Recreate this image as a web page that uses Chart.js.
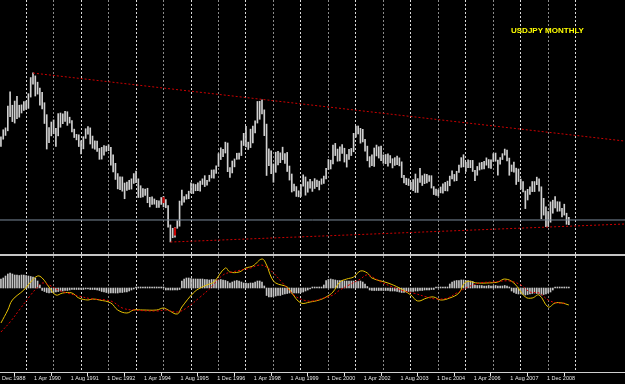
<!DOCTYPE html>
<html lang="en">
<head>
  <meta charset="UTF-8">
  <title>USDJPY Monthly</title>
  <script src="https://cdn.jsdelivr.net/npm/chart.js"></script>
  <style>
    html, body { margin: 0; padding: 0; background: #000; }
    body { width: 625px; height: 384px; position: relative; overflow: hidden; }
    #precos { position: absolute; left: 0; top: 0; width: 625px; height: 254px; }
    #sep { position: absolute; left: 0; top: 254px; width: 625px; height: 2px; background: #c4c4c4; }
    #osc { position: absolute; left: 0; top: 256px; width: 625px; height: 128px; }
    #titulo { position: absolute; left: 511px; top: 27px; font: bold 8px "Liberation Sans", Arial, sans-serif;
              line-height: 8px; color: #ffff00; white-space: nowrap; }
  </style>
</head>
<body>
  <div id="precos"><canvas id="cPreco"></canvas></div>
  <div id="sep"></div>
  <div id="osc"><canvas id="cOsc"></canvas></div>
  <div id="titulo">USDJPY MONTHLY</div>

<script>
// month index: 0 = Dec 1988, 1 = Jan 1989 ... 250 = Oct 2009
const firstMonth = 1

const highs = [
  130.4, 129.9, 133.3, 134.2, 144.6, 151.4, 145.0, 147.0, 149.3, 145.0, 145.2, 146.8,
  147.0, 150.5, 158.2, 160.4, 159.0, 156.0, 153.2, 151.1, 146.2, 140.5, 134.3, 137.0,
  138.0, 134.0, 141.0, 141.3, 140.9, 142.1, 141.9, 139.3, 137.7, 133.6, 131.1, 130.9,
  128.0, 130.0, 133.8, 134.8, 134.2, 130.3, 128.0, 127.9, 124.4, 124.9, 125.8, 125.5,
  126.1, 124.9, 121.3, 117.3, 112.4, 110.9, 110.8, 107.9, 108.4, 109.2, 109.9, 112.4,
  113.6, 109.9, 106.6, 105.2, 105.0, 105.4, 101.1, 101.3, 100.3, 99.6, 99.4, 101.0,
  101.5, 100.0, 97.1, 87.9, 86.3, 86.6, 89.9, 99.3, 104.5, 101.4, 102.4, 104.0,
  108.0, 107.5, 107.2, 108.0, 108.8, 109.9, 111.4, 109.2, 111.6, 114.1, 114.2, 116.1,
  121.9, 124.7, 124.0, 127.4, 127.0, 115.3, 118.4, 119.4, 122.1, 122.2, 128.0, 131.6,
  134.9, 127.4, 133.6, 135.0, 137.6, 146.8, 146.9, 147.6, 142.8, 136.0, 124.2, 123.3,
  117.0, 122.6, 123.0, 122.3, 125.0, 122.0, 122.5, 116.0, 112.2, 107.4, 106.2, 104.2,
  107.1, 111.8, 110.8, 108.5, 109.7, 108.6, 110.0, 109.3, 108.8, 109.9, 111.2, 114.9,
  119.1, 118.8, 126.0, 126.8, 124.1, 125.2, 126.2, 124.5, 121.5, 124.0, 124.4, 131.6,
  135.0, 135.1, 134.0, 133.5, 128.7, 125.5, 120.5, 121.3, 124.6, 126.0, 125.2, 125.5,
  121.3, 121.5, 121.8, 121.0, 119.5, 120.0, 120.8, 119.9, 118.0, 111.6, 110.2, 109.9,
  108.2, 109.5, 112.2, 110.0, 114.9, 111.4, 112.2, 112.0, 111.4, 111.4, 106.2, 105.0,
  104.6, 106.0, 107.5, 108.2, 108.8, 111.2, 113.7, 112.0, 113.5, 116.4, 120.0, 121.4,
  117.8, 119.0, 118.7, 118.7, 114.0, 115.8, 117.5, 117.8, 118.3, 119.9, 119.1, 119.0,
  121.9, 122.2, 118.8, 120.0, 121.9, 124.1, 123.6, 119.8, 116.5, 117.9, 115.0, 114.6,
  109.8, 108.6, 104.1, 104.9, 106.1, 108.6, 108.6, 110.7, 109.9, 106.1, 100.6, 96.6,
  94.3, 98.9, 99.7, 101.4, 99.0, 98.9, 95.8, 97.8, 93.5, 91.5
]
const lows = [
  124.0, 125.4, 128.8, 130.6, 132.8, 139.6, 137.2, 136.5, 138.6, 139.3, 141.3, 142.5,
  143.0, 143.5, 148.9, 155.1, 149.4, 150.3, 145.0, 143.2, 136.3, 124.1, 127.2, 130.4,
  131.4, 125.3, 130.4, 134.5, 136.2, 137.3, 135.4, 136.5, 132.3, 129.6, 128.5, 125.3,
  121.8, 124.2, 129.2, 131.2, 126.5, 124.5, 124.0, 123.0, 119.2, 119.3, 121.2, 123.0,
  123.3, 116.4, 113.2, 109.6, 105.1, 104.7, 104.0, 100.4, 104.4, 104.8, 105.0, 107.7,
  108.1, 101.0, 101.0, 101.3, 102.0, 98.5, 96.5, 97.7, 97.8, 96.2, 96.2, 97.7,
  96.5, 96.1, 86.8, 79.8, 81.8, 82.1, 86.3, 87.3, 97.3, 98.8, 100.2, 100.4,
  103.2, 102.9, 104.2, 104.3, 104.0, 107.2, 106.2, 106.9, 108.7, 110.3, 110.2, 112.5,
  115.8, 119.1, 120.5, 122.2, 113.3, 110.6, 112.7, 115.6, 119.2, 119.3, 121.0, 125.8,
  125.1, 123.9, 124.8, 127.0, 131.8, 136.5, 138.3, 140.9, 130.5, 111.5, 116.2, 112.3,
  108.3, 113.0, 116.5, 117.6, 119.0, 117.3, 113.4, 109.3, 103.6, 104.1, 101.5, 101.3,
  101.5, 106.4, 102.1, 103.5, 105.4, 103.9, 105.3, 106.2, 104.6, 107.3, 107.7, 109.8,
  114.3, 114.6, 117.0, 121.0, 118.3, 118.4, 122.0, 117.9, 115.5, 119.1, 121.0, 122.8,
  129.8, 131.3, 126.9, 127.5, 123.1, 118.5, 115.5, 116.2, 115.8, 120.8, 119.8, 118.6,
  117.3, 117.1, 115.9, 117.5, 115.1, 116.3, 116.6, 116.1, 110.5, 107.9, 107.1, 106.7,
  105.0, 104.2, 103.4, 103.4, 108.2, 106.7, 107.6, 108.0, 108.7, 105.5, 102.4, 102.0,
  101.7, 103.2, 103.1, 104.2, 104.1, 106.6, 109.8, 108.8, 109.0, 113.0, 115.4, 115.6,
  113.4, 115.2, 115.2, 113.4, 109.0, 111.6, 114.1, 114.5, 114.6, 116.4, 115.1, 114.9,
  118.2, 118.3, 111.6, 116.9, 119.1, 121.2, 118.4, 111.6, 113.4, 113.1, 107.2, 108.6,
  105.0, 103.7, 95.7, 99.8, 102.5, 103.8, 103.8, 107.1, 104.0, 90.9, 92.6, 87.1,
  87.1, 89.2, 93.5, 96.0, 94.4, 94.5, 91.7, 92.6, 88.2, 88.0
]

// oscillator histogram, one value per month
const histo = [
  1.6, 1.8, 2.0, 2.4, 2.8, 3.0, 2.8, 2.6, 2.6, 2.5, 2.6, 2.6,
  2.5, 2.4, 2.3, 2.2, 2.0, 1.4, 0.6, -0.5, -0.7, -0.9, -1.0, -0.9,
  -0.9, -0.8, -0.7, -0.6, -0.6, -0.5, -0.5, -0.4, -0.3, -0.3, -0.3, -0.3,
  -0.3, -0.3, -0.2, -0.2, -0.3, -0.3, -0.3, -0.4, -0.5, -0.7, -0.8, -0.9,
  -1.0, -1.0, -1.0, -1.0, -1.0, -0.9, -0.9, -0.8, -0.8, -0.6, -0.4, -0.2,
  0.2, 0.2, 0.2, 0.2, 0.2, 0.2, 0.2, 0.2, 0.2, 0.2, 0.2, 0.2,
  0.2, -0.4, -0.4, -0.4, -0.4, -0.4, -0.4, -0.3, 1.4, 1.8, 2.0, 2.0,
  1.9, 1.8, 1.8, 1.8, 1.8, 1.8, 1.7, 1.7, 1.6, 1.7, 1.7, 1.6,
  1.6, 1.7, 1.6, 1.5, 1.3, 1.0, 1.2, 1.4, 1.5, 1.4, 1.2, 1.0,
  1.0, 0.9, 1.0, 1.0, 1.2, 1.4, 1.4, 1.2, 0.4, -1.5, -1.8, -1.8,
  -1.7, -1.6, -1.5, -1.5, -1.3, -1.2, -1.1, -1.0, -1.0, -1.0, -1.0, -1.0,
  -0.9, -0.8, -0.6, -0.4, -0.2, 0.2, 0.2, 0.2, 0.2, 0.2, 0.6, 1.5,
  1.7, 1.8, 1.7, 1.6, 1.5, 1.5, 1.5, 1.4, 1.4, 1.4, 1.4, 1.4,
  1.4, 1.3, 1.4, 1.2, 0.8, 0.3, -0.4, -0.5, -0.5, -0.5, -0.5, -0.5,
  -0.5, -0.5, -0.5, -0.6, -0.6, -0.6, -0.7, -0.8, -0.9, -0.9, -0.8, -0.7,
  -0.7, -0.7, -0.6, -0.6, -0.5, -0.5, -0.4, -0.4, -0.4, -0.3, -0.3, 0.2,
  0.2, 0.2, 0.2, 0.2, 0.2, 0.8, 1.2, 1.4, 1.5, 1.5, 1.6, 1.6,
  1.5, 1.5, 1.4, 1.3, 0.6, 0.5, 0.5, 0.5, 0.4, 0.4, 0.5, 0.4,
  0.4, 0.5, 0.4, 0.4, 0.4, 0.5, 0.4, 0.2, -0.6, -0.9, -1.1, -1.2,
  -1.2, -1.3, -1.4, -1.3, -1.2, -1.1, -1.0, -1.1, -1.2, -1.4, -1.3, -1.2,
  -1.0, -0.8, -0.4, 0.2, 0.2, 0.2, 0.2, 0.2, 0.2, 0.2
]

// [month, value]
const macdLine = [
  [2,-8.75],[5,-5.5],[7,-3],[12,-0.5],[15,1.5],[18,3],[20,2.5],[23,0.25],[26,-1.75],[29,-1.25],
  [33,-1.25],[36,-2.5],[40,-3],[42,-2.75],[45,-3],[50,-3.75],[53,-5.5],[57,-6.25],[60,-5.5],[64,-5.5],
  [70,-5.5],[73,-5],[75,-5.5],[79,-6.5],[81,-4.75],[86,-1.25],[89,0],[93,1],[95,1.5],[100,5],
  [102,4],[106,4],[109,5],[112,5.5],[116,7.25],[118,5.75],[120,2.75],[122,1.25],[127,0.25],[129,-1.25],
  [133,-3.75],[137,-3.5],[141,-3],[144,-2.25],[147,-1],[150,1.5],[153,2.25],[156,2.75],[159,4.25],[162,3.75],
  [164,2.5],[171,1.25],[176,0],[181,-1.75],[184,-3.25],[188,-2.5],[191,-2.25],[194,-3],[198,-2.5],[202,-1.25],
  [205,1.5],[210,1.25],[214,1.25],[219,1.5],[222,2.25],[226,1.25],[231,-2.25],[234,-2.5],[237,-1.75],[241,-4.75],
  [244,-3.75],[247,-3.75],[250,-4.25]
]
const signalLine = [
  [2,-11],[6,-8.5],[10,-5.5],[15,-1.75],[18,0.25],[20,1.25],[23,0.75],[27,-0.5],[31,-1.25],[36,-2],
  [42,-2.75],[48,-3],[51,-3.5],[55,-5],[60,-5.5],[70,-5.75],[74,-5.5],[79,-6],[83,-5],[89,-2.25],
  [93,-0.25],[99,3.25],[103,4],[111,5],[115,5.75],[118,5.25],[121,3.75],[125,1.25],[130,-1.75],[134,-3],
  [138,-3.25],[143,-2.5],[147,-1.75],[150,-0.5],[154,0.75],[159,2.25],[162,3.25],[168,1.5],[173,0.25],[178,-0.75],
  [182,-1.25],[188,-2.25],[192,-2.75],[197,-2.5],[201,-1.25],[206,0.25],[211,1.25],[217,1.5],[224,1.75],[229,0.75],
  [233,-1],[237,-1.25],[241,-3],[245,-3.75],[249,-3.75]
]

// trend lines and level drawn on the chart: [month, price]
const upperTrend = [[16, 160.35], [274.5, 127.9]]
const lowerTrend = [[76, 79.75], [274.5, 88.35]]
const levelPrice = 90.26
const redMarks = [[73, 98.5, 101.0], [78, 83.0, 86.5]]

// axis: yearly grid (January) and date labels every 16 months
const yearStarts = [13,25,37,49,61,73,85,97,109,121,133,145,157,169,181,193,205,217,229,241,253]
const labelMonths = [0,16,32,48,64,80,96,112,128,144,160,176,192,208,224,240]
const tickLabels = ['1 Dec 1988','1 Apr 1990','1 Aug 1991','1 Dec 1992','1 Apr 1994','1 Aug 1995',
  '1 Dec 1996','1 Apr 1998','1 Aug 1999','1 Dec 2000','1 Apr 2002','1 Aug 2003','1 Dec 2004',
  '1 Apr 2006','1 Aug 2007','1 Dec 2008']

// visible window
const xMin = 1.59, xMax = 274.52
const yMin = 74.04, yMax = 195.2

const pts = arr => arr.map(p => ({ x: p[0], y: p[1] }))
const barras = highs.map((h, k) => ({ x: firstMonth + k, y: [lows[k], h] }))
const hist = histo.map((v, k) => ({ x: firstMonth + k, y: v }))

function gradeAnos() {
  return {
    type: 'linear', min: xMin, max: xMax, offset: false, bounds: 'data',
    afterBuildTicks: s => { s.ticks = yearStarts.map(v => ({ value: v })) },
    afterFit: s => { s.height = 0; s.paddingLeft = 0; s.paddingRight = 0 },
    ticks: { display: false },
    border: { display: false, dash: [2, 2] },
    grid: {
      drawTicks: false, lineWidth: 1, offset: false,
      color: c => c.index % 2 === 0 ? '#dadada' : '#8a8a8a'
    }
  }
}

new Chart(document.getElementById('cPreco'), {
  type: 'bar',
  data: {
    datasets: [
      { type: 'line', data: pts(upperTrend), borderColor: '#cc0000', borderWidth: 1, borderDash: [2, 2], pointRadius: 0 },
      { type: 'line', data: pts(lowerTrend), borderColor: '#cc0000', borderWidth: 1, borderDash: [2, 2], pointRadius: 0 },
      { type: 'line', data: [{ x: xMin, y: levelPrice }, { x: xMax, y: levelPrice }], borderColor: '#7b8a9a', borderWidth: 1, pointRadius: 0 },
      { data: redMarks.map(r => ({ x: r[0], y: [r[1], r[2]] })), backgroundColor: '#c80000', barThickness: 1.5, grouped: false },
      { data: barras, backgroundColor: '#d0d0d0', barThickness: 1, grouped: false }
    ]
  },
  options: {
    responsive: true, maintainAspectRatio: false, animation: false,
    layout: { padding: 0 },
    plugins: { legend: { display: false }, tooltip: { enabled: false } },
    scales: {
      x: gradeAnos(),
      y: { display: false, min: yMin, max: yMax, bounds: 'data' }
    }
  }
});

new Chart(document.getElementById('cOsc'), {
  type: 'bar',
  data: {
    datasets: [
      { type: 'line', yAxisID: 'yl', data: pts(signalLine), borderColor: '#e00000', borderWidth: 1, borderDash: [2, 2], pointRadius: 0, tension: 0.4 },
      { type: 'line', yAxisID: 'yl', data: pts(macdLine), borderColor: '#e6c000', borderWidth: 1, pointRadius: 0, tension: 0.4 },
      { yAxisID: 'yh', data: hist, backgroundColor: '#c4c4c4', barThickness: 1, grouped: false }
    ]
  },
  options: {
    responsive: true, maintainAspectRatio: false, animation: false,
    layout: { padding: 0 },
    plugins: { legend: { display: false }, tooltip: { enabled: false } },
    scales: {
      x: gradeAnos(),
      xl: {
        type: 'linear', position: 'bottom', min: xMin, max: xMax, offset: false, bounds: 'data',
        afterBuildTicks: s => { s.ticks = labelMonths.map(v => ({ value: v })) },
        // keep the plot full width even though the first label starts left of the edge
        afterFit: s => { s.height = 12; s.paddingLeft = 0; s.paddingRight = 0 },
        ticks: {
          callback: (v, i) => tickLabels[i],
          align: 'start', labelOffset: 1, maxRotation: 0, autoSkip: false, padding: -1,
          color: '#e4e4e4',
          font: { size: 5.5, family: "'Liberation Sans', Arial, sans-serif" }
        },
        grid: { drawOnChartArea: false, drawTicks: true, tickLength: 4, tickColor: '#e4e4e4', color: '#e4e4e4' },
        border: { display: true, color: '#d0d0d0', width: 1 }
      },
      yl: { display: false, min: -21, max: 8, bounds: 'data' },
      yh: { display: false, min: -16.8, max: 6.4, bounds: 'data' }
    }
  }
});
</script>
</body>
</html>
